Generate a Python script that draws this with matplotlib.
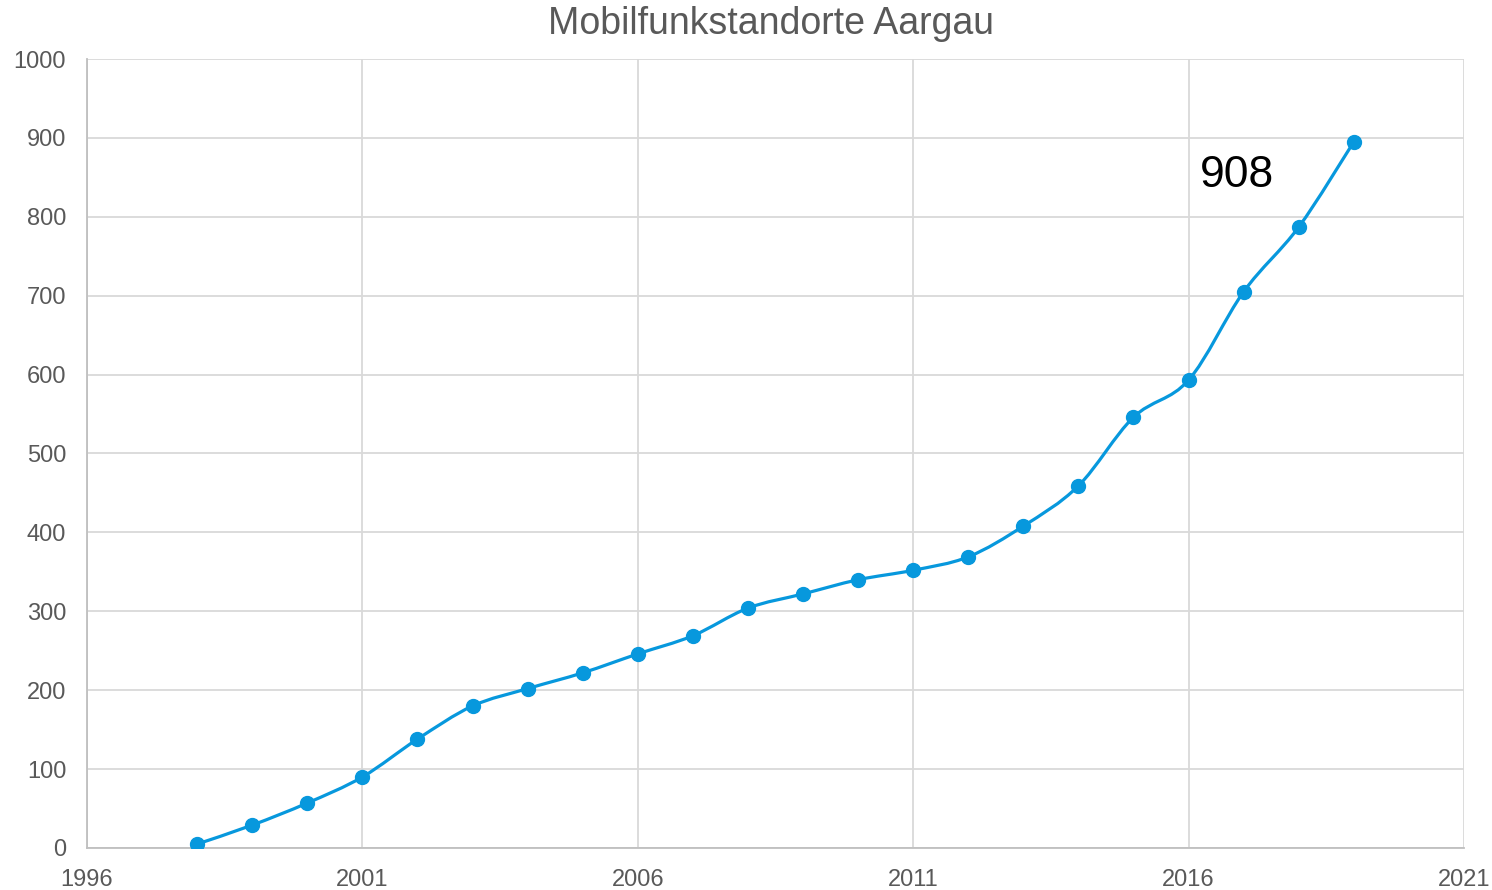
import numpy as np
import matplotlib
matplotlib.use('Agg')
import matplotlib.pyplot as plt
from matplotlib.path import Path
from matplotlib.patches import PathPatch

matplotlib.rcParams['font.family'] = ['Liberation Sans', 'DejaVu Sans']

# Daten: Anzahl Mobilfunkstandorte pro Jahr
years = [1998, 1999, 2000, 2001, 2002, 2003, 2004, 2005, 2006, 2007, 2008,
         2009, 2010, 2011, 2012, 2013, 2014, 2015, 2016, 2017, 2018, 2019]
sites = [5, 29, 57, 90, 138, 180, 202, 222, 246, 269, 304,
         322, 340, 352, 369, 408, 459, 546, 593, 705, 787, 895]
label_text = '908'

line_color = '#0798DD'
grey_text = '#595959'

fig = plt.figure(figsize=(14.92, 8.9), dpi=100)
ax = fig.add_axes([0.0583, 0.0472, 0.9229, 0.8865])

# geglaettete Linie wie in Excel (Bezier mit Catmull-Rom Kontrollpunkten)
x = np.array(years, dtype=float)
y = np.array(sites, dtype=float)
verts = [(x[0], y[0])]
codes = [Path.MOVETO]
n = len(x)
for i in range(n - 1):
    p0 = (x[max(i - 1, 0)], y[max(i - 1, 0)])
    p1 = (x[i], y[i])
    p2 = (x[i + 1], y[i + 1])
    p3 = (x[min(i + 2, n - 1)], y[min(i + 2, n - 1)])
    c1 = (p1[0] + (p2[0] - p0[0]) / 6, p1[1] + (p2[1] - p0[1]) / 6)
    c2 = (p2[0] - (p3[0] - p1[0]) / 6, p2[1] - (p3[1] - p1[1]) / 6)
    verts += [c1, c2, p2]
    codes += [Path.CURVE4] * 3
ax.add_patch(PathPatch(Path(verts, codes), facecolor='none', edgecolor=line_color,
                       lw=2.3, zorder=3, capstyle='round'))
ax.plot(years, sites, 'o', color=line_color, markersize=10, zorder=4)

ax.text(2016.2, 852, label_text, fontsize=32, color='black', va='center', ha='left')

ax.set_xlim(1996, 2021)
ax.set_ylim(0, 1000)
ax.set_xticks(range(1996, 2022, 5))
ax.set_yticks(range(0, 1001, 100))
ax.grid(True, color='#d9d9d9', lw=1.3)
ax.set_axisbelow(True)
ax.tick_params(length=0, labelsize=17, labelcolor=grey_text)
ax.tick_params(axis='x', pad=15)
ax.tick_params(axis='y', pad=15)
for side in ['top', 'right']:
    ax.spines[side].set_visible(False)
for side in ['left', 'bottom']:
    ax.spines[side].set_color('#bfbfbf')
    ax.spines[side].set_linewidth(1.3)

fig.text(0.517, 0.973, 'Mobilfunkstandorte Aargau', fontsize=27, color=grey_text,
         ha='center', va='center')

fig.savefig('out.png', dpi=100)
